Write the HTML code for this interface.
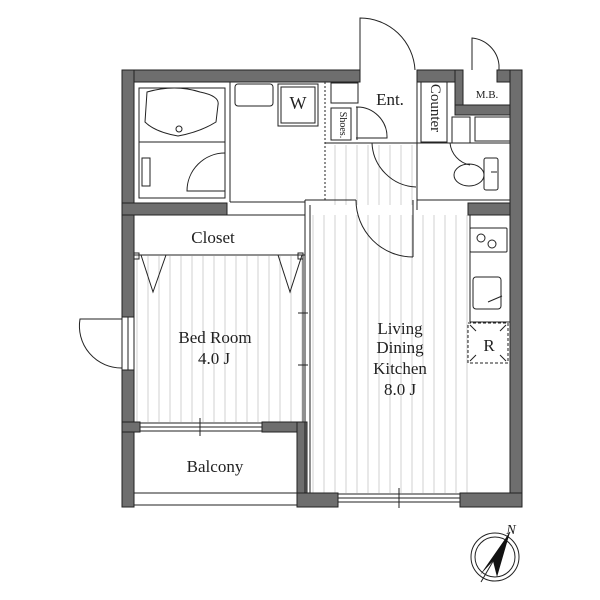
<!DOCTYPE html>
<html><head><meta charset="utf-8"><style>
html,body{margin:0;padding:0;background:#fff;}
svg{display:block;}
text{font-family:"Liberation Serif",serif;fill:#222;}
</style></head><body>
<svg width="600" height="600" viewBox="0 0 600 600" xmlns="http://www.w3.org/2000/svg">
<defs>
<pattern id="hatch" width="11" height="10" patternUnits="userSpaceOnUse">
<line x1="5" y1="0" x2="5" y2="10" stroke="#d0d0d0" stroke-width="1"/>
</pattern>
</defs>
<g fill="url(#hatch)">
<rect x="136" y="256" width="166" height="166"/>
<rect x="310" y="215" width="158" height="278"/>
<rect x="326" y="145" width="90" height="60"/>
</g>
<g fill="#6e6e6e" stroke="#222" stroke-width="1">
<rect x="122" y="70" width="238" height="12"/>
<rect x="417" y="70" width="45" height="12"/>
<rect x="497" y="70" width="25" height="12"/>
<rect x="455" y="70" width="8" height="35"/>
<rect x="455" y="105" width="67" height="10"/>
<rect x="122" y="70" width="12" height="247"/>
<rect x="122" y="370" width="12" height="137"/>
<rect x="510" y="70" width="12" height="437"/>
<rect x="122" y="203" width="105" height="12"/>
<rect x="468" y="203" width="42" height="12"/>
<rect x="122" y="422" width="18" height="10"/>
<rect x="262" y="422" width="45" height="10"/>
<rect x="297" y="422" width="10" height="85"/>
<rect x="297" y="493" width="41" height="14"/>
<rect x="460" y="493" width="62" height="14"/>
</g>
<g fill="none" stroke="#222" stroke-width="1">
<rect x="139" y="88" width="86" height="110"/>
<path d="M147 92 Q175 84 200 92 Q220 96 218 105 L216 122 Q200 132 178 136 Q155 132 145 122 Z"/>
<line x1="139" y1="142" x2="225" y2="142"/>
<rect x="142" y="158" width="8" height="28"/>
<circle cx="179" cy="129" r="3"/>
<path d="M225 153 A38 38 0 0 0 187 191 L225 191"/>
<line x1="230" y1="82" x2="230" y2="202"/>
<line x1="230" y1="202" x2="305" y2="202"/>
<rect x="235" y="84" width="38" height="22" rx="3"/>
<rect x="278" y="84" width="40" height="42"/>
<rect x="281" y="87" width="34" height="36"/>
<line x1="325" y1="82" x2="325" y2="202" stroke-dasharray="2,2"/>
<rect x="331" y="83" width="27" height="20"/>
<rect x="331" y="108" width="20" height="32"/>
<path d="M357 107 L357 140 M356 107 A30 30 0 0 1 387 138 L356 138"/>
<line x1="325" y1="143" x2="417" y2="143"/>
<line x1="360" y1="82" x2="360" y2="70"/>
<rect x="421" y="82" width="26" height="60"/>
<line x1="417" y1="82" x2="417" y2="210"/>
<path d="M372 143 A46 46 0 0 0 416 187"/>
<path d="M360 70 L360 18 A55 55 0 0 1 415 70"/>
<path d="M472 70 L472 38 A30 30 0 0 1 499 65 L499 70"/>
<line x1="417" y1="143" x2="510" y2="143"/>
<line x1="417" y1="200" x2="510" y2="200"/>
<rect x="452" y="117" width="18" height="26"/>
<rect x="475" y="117" width="35" height="24"/>
<path d="M450 143 A25 25 0 0 0 470 165"/>
<ellipse cx="469" cy="175" rx="15" ry="11"/>
<rect x="484" y="158" width="14" height="32" rx="2"/>
<line x1="491" y1="172" x2="497" y2="172"/>
<line x1="305" y1="200" x2="305" y2="493"/>
<line x1="310" y1="205" x2="310" y2="493"/>
<line x1="305" y1="200" x2="356" y2="200"/>
<path d="M356 200 A57 57 0 0 0 413 257"/>
<line x1="413" y1="200" x2="413" y2="257"/>
<line x1="134" y1="215" x2="305" y2="215"/>
<line x1="134" y1="255" x2="305" y2="255"/>
<rect x="134" y="253" width="5" height="6"/>
<rect x="298" y="253" width="5" height="6"/>
<path d="M141 255 L153 292 L166 255 M278 255 L290 292 L302 255"/>
<line x1="303" y1="255" x2="303" y2="422"/>
<path d="M298 313 H308 M303 308 V318 M298 365 H308 M303 360 V370"/>
<rect x="470" y="228" width="37" height="24" rx="1"/>
<circle cx="481" cy="238" r="4"/><circle cx="492" cy="244" r="4"/>
<line x1="470" y1="215" x2="470" y2="322"/>
<line x1="470" y1="322" x2="510" y2="322"/>
<rect x="473" y="277" width="28" height="32" rx="3"/>
<line x1="488" y1="302" x2="502" y2="296"/>
<rect x="468" y="323" width="40" height="40" stroke-dasharray="3,2"/>
<path d="M470 325 L476 331 M506 325 L500 331 M470 361 L476 355 M506 361 L500 355"/>
<rect x="140" y="423" width="122" height="8"/>
<line x1="140" y1="427" x2="262" y2="427"/>
<line x1="200" y1="418" x2="200" y2="436"/>
<rect x="338" y="494" width="122" height="8"/>
<line x1="338" y1="498" x2="460" y2="498"/>
<line x1="399" y1="488" x2="399" y2="508"/>
<line x1="134" y1="493" x2="297" y2="493"/>
<line x1="134" y1="505" x2="297" y2="505"/>
<rect x="122" y="317" width="12" height="53"/>
<line x1="128" y1="317" x2="128" y2="370"/>
<path d="M122 319 L80 319 A42 42 0 0 0 122 368"/>
<circle cx="495" cy="557" r="24"/>
<circle cx="495" cy="557" r="20"/>
<line x1="510" y1="532" x2="481" y2="582"/>
</g>
<path d="M510 532 L480 575 L493 561 L497 577 Z" fill="#111"/>
<g font-size="17" text-anchor="middle">
<text x="390" y="105">Ent.</text>
<text x="298" y="109" font-size="18">W</text>
<text x="487" y="98" font-size="11">M.B.</text>
<text x="436" y="108" transform="rotate(90 436 108)" dy="5" font-size="15">Counter</text>
<text x="344" y="125" transform="rotate(90 344 125)" dy="4" font-size="10">Shoes.</text>
<text x="213" y="243">Closet</text>
<text x="215" y="343">Bed Room</text>
<text x="214" y="364">4.0 J</text>
<text x="400" y="334">Living</text>
<text x="400" y="353">Dining</text>
<text x="400" y="374">Kitchen</text>
<text x="400" y="395">8.0 J</text>
<text x="215" y="472">Balcony</text>
<text x="489" y="351">R</text>
<text x="511" y="534" font-size="14" font-style="italic">N</text>
</g>
</svg>
</body></html>
